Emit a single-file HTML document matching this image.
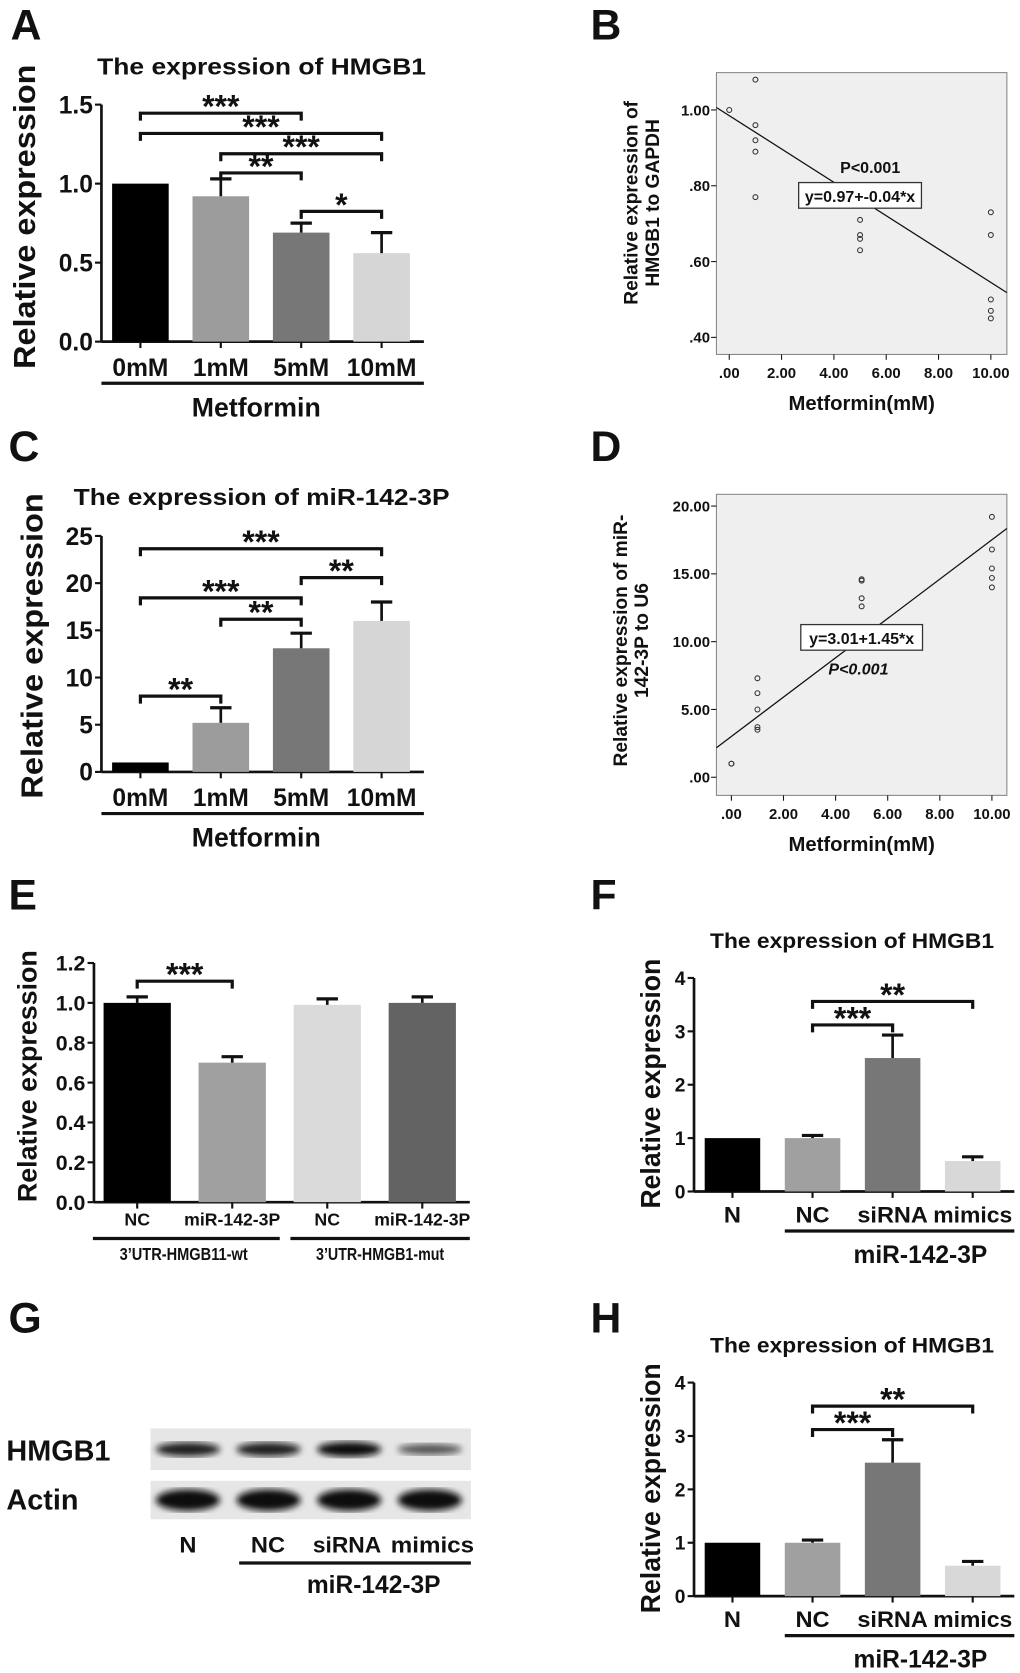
<!DOCTYPE html>
<html><head><meta charset="utf-8"><style>
html,body{margin:0;padding:0;background:#fff}
svg{display:block}
text{font-family:"Liberation Sans",Arial,sans-serif;font-weight:bold;fill:#111}
</style></head><body>
<svg id="fig" width="1020" height="1673" viewBox="0 0 955.3 1567" preserveAspectRatio="none" xmlns="http://www.w3.org/2000/svg"></svg>
<script>
// ---- Panel A data ----
const aCats = ["0mM","1mM","5mM","10mM"];
const aVals = [1.0, 0.92, 0.69, 0.56];
const aErr = [1.0, 1.03, 0.75, 0.69];
const aTicks = [0.0, 0.5, 1.0, 1.5];
const aSig = [[0,2,"***"],[0,3,"***"],[1,3,"***"],[1,2,"**"],[2,3,"*"]];
// ---- Panel C data ----
const cVals = [1.0, 5.2, 13.1, 16.0];
const cErr = [1.0, 6.8, 14.7, 18.0];
const cTicks = [0,5,10,15,20,25];
const cSig = [[0,3,"***"],[2,3,"**"],[0,2,"***"],[1,2,"**"],[0,1,"**"]];
// ---- Panel B data ----
const bX = [0,1,1,1,1,1,5,5,5,5,10,10,10,10,10];
const bY = [1.00,1.08,0.96,0.92,0.89,0.77,0.71,0.67,0.66,0.63,0.73,0.67,0.50,0.47,0.45];
const bYTicks = [0.40,0.60,0.80,1.00];
const bYLabels = [".40",".60",".80","1.00"];
const bFit = [0.985,-0.044];
// ---- Panel D data ----
const dX = [0,0,1,1,1,1,1,5,5,5,5,10,10,10,10,10];
const dY = [1.0,1.0,7.3,6.2,5.0,3.7,3.5,14.6,14.5,13.2,12.6,19.2,16.8,15.4,14.7,14.0];
const dYTicks = [0,5,10,15,20];
const dYLabels = [".00","5.00","10.00","15.00","20.00"];
const dFit = [3.01,1.45];
const xTicks = [0,2,4,6,8,10];
const xTickLabels = [".00","2.00","4.00","6.00","8.00","10.00"];
// ---- Panel E data ----
const eCats = ["NC","miR-142-3P","NC","miR-142-3P"];
const eVals = [1.0, 0.70, 0.99, 1.0];
const eErr = [1.03, 0.73, 1.02, 1.03];
const eTicks = [0.0,0.2,0.4,0.6,0.8,1.0,1.2];
// ---- Panel F/H data ----
const fCats = ["N","NC","siRNA","mimics"];
const fVals = [1.0, 1.0, 2.5, 0.57];
const fErr = [1.0, 1.05, 2.93, 0.65];
const hVals = [1.0, 1.0, 2.5, 0.57];
const hErr = [1.0, 1.05, 2.93, 0.65];
const fTicks = [0,1,2,3,4];
const fSig = [[1,2,"***"],[1,3,"**"]];
// ---- Panel G data (band intensity 0..1) ----
const gLanes = ["N","NC","siRNA","mimics"];
const gHmgb1 = [0.85, 0.85, 1.0, 0.45];
const gActin = [1.0, 1.0, 1.0, 1.0];

const NS="http://www.w3.org/2000/svg";
const svg=document.getElementById('fig');
function el(tag,attrs,parent){const e=document.createElementNS(NS,tag);for(const k in attrs)e.setAttribute(k,attrs[k]);(parent||svg).appendChild(e);return e;}
function txt(s,x,y,size,anchor,parent,extra){const t=el('text',Object.assign({x:x,y:y,'font-size':size,'text-anchor':anchor||'middle'},extra||{}),parent);t.textContent=s;return t;}
function line(x1,y1,x2,y2,w,parent){return el('line',{x1:x1,y1:y1,x2:x2,y2:y2,stroke:'#111','stroke-width':w||2},parent);}

function barChart(o){
  const g=el('g',{});
  
  
  const ys=v=>o.y0-(v-o.vmin)/(o.vmax-o.vmin)*(o.y0-o.y1);
  const xc=i=>o.bx0+o.bw/2+i*o.step;
  const ax=line(o.ax,o.y1,o.ax,o.y0,2.5,g);
  
  
  const xa=line(o.ax,o.y0,o.axEnd,o.y0,2.5,g);
  
  
  o.ticks.forEach((t,i)=>{
    line(o.ax-6,ys(t),o.ax,ys(t),2,g);
    const l=txt(o.tickFmt(t),o.ax-8,ys(t)+o.tfs*0.36,o.tfs,'end',g);
    
    
  });
  o.vals.forEach((v,i)=>{
    const x=o.bx0+i*o.step;
    const r=el('rect',{x:x,y:ys(v),width:o.bw,height:o.y0-ys(v),fill:o.colors[i]},g);
    
    
    if(o.err[i]>v+0.001){
      line(xc(i),ys(v),xc(i),ys(o.err[i]),2.5,g);
      line(xc(i)-10,ys(o.err[i]),xc(i)+10,ys(o.err[i]),3,g);
    }
    line(xc(i),o.y0,xc(i),o.y0+6,2,g);
    const l=txt(o.cats[i],xc(i),o.labY,o.lfs,'middle',g,o.lcond?{textLength:o.lcond[i],lengthAdjust:'spacingAndGlyphs'}:{});
    
    
  });
  (o.sig||[]).forEach((s,k)=>{
    const y=o.sigY[k];const xa=xc(s[0]),xb=xc(s[1]);
    const p=el('path',{d:`M${xa},${y+7}V${y}H${xb}V${y+7}`,fill:'none',stroke:'#111','stroke-width':3},g);
    
    
    const t=txt(s[2],(xa+xb)/2,y+o.sfs*0.14,o.sfs,'middle',g);
    
    
  });
  const yt=txt(o.ytitle,0,0,o.ytfs,'middle',g,{transform:`translate(${o.ytx},${o.yty}) rotate(-90)`,textLength:o.ytw,lengthAdjust:'spacingAndGlyphs'});
  
  
  if(o.title){const t=txt(o.title,o.titleX,o.titleY,o.titleFs,'middle',g,{textLength:o.titleW,lengthAdjust:'spacingAndGlyphs'});
    
    }
  return g;
}

function scatter(o){
  const g=el('g',{});
  
  
  const bg=el('rect',{x:o.bx0,y:o.by0,width:o.bx1-o.bx0,height:o.by1-o.by0,fill:'#efefef',stroke:'#888','stroke-width':1},g);
  
  
  const xs=v=>o.px0+(v-0)/10*(o.px1-o.px0);
  const ys=v=>o.py0-(v-o.ymin)/(o.ymax-o.ymin)*(o.py0-o.py1);
  o.yt.forEach((t,i)=>{line(o.bx0-5,ys(t),o.bx0,ys(t),1,g);
    const l=txt(o.yl[i],o.bx0-6,ys(t)+5,14,'end',g);
    
    });
  xTicks.forEach((t,i)=>{line(xs(t),o.by1,xs(t),o.by1+5,1,g);
    const l=txt(xTickLabels[i],xs(t),o.by1+22,14,'middle',g);
    
    });
  const xl=(o.bx0-o.px0)/(o.px1-o.px0)*10, xr=(o.bx1-o.px0)/(o.px1-o.px0)*10;
  const fl=line(o.bx0,ys(o.fit[0]+o.fit[1]*xl),o.bx1,ys(o.fit[0]+o.fit[1]*xr),1.2,g);
  
  
  o.x.forEach((x,i)=>{const c=el('circle',{cx:xs(x),cy:ys(o.y[i]),r:2.3,fill:'none',stroke:'#333','stroke-width':1},g);
    
    });
  const eb=el('rect',{x:o.eq[0],y:o.eq[1],width:o.eq[2],height:24,fill:'#fff',stroke:'#333','stroke-width':1.2},g);
  
  
  const et=txt(o.eqText,o.eq[0]+o.eq[2]/2,o.eq[1]+18,15,'middle',g);
  
  
  const pt=txt('P<0.001',o.p[0],o.p[1],15,'middle',g,o.pItal?{'font-style':'italic'}:{});
  
  
  const xt=txt('Metformin(mM)',(o.bx0+o.bx1)/2,o.by1+52,19,'middle',g);
  
  
  o.ytitle.forEach((s,i)=>{const t=txt(s,0,0,18,'middle',g,{transform:`translate(${o.ytx+i*20},${o.yty}) rotate(-90)`});
    
    });
}

function panelLabel(s,x,y){const t=txt(s,x,y,40,'start');
  
  }
['A',10,37,'B',553,37,'C',8,432,'D',553,432,'E',8,852,'F',553,852,'G',8,1248,'H',553,1248].forEach((v,i,a)=>{if(i%3==0)panelLabel(a[i],a[i+1],a[i+2]);});

const grays4=['#000','#9c9c9c','#777','#d6d6d6'];
barChart({name:'chart-a',cats:aCats,vals:aVals,err:aErr,ticks:aTicks,vmin:0,vmax:1.5,y0:320,y1:98,ax:95,axEnd:397,
  bx0:105,bw:53,step:75.3,colors:grays4,labY:352,lfs:23,tfs:23,tickFmt:t=>t.toFixed(1),
  sig:aSig,sigY:[106,125,144,162,198],sfs:30,ytitle:'Relative expression',ytfs:29,ytw:285,ytx:33,yty:203,
  title:'The expression of HMGB1',titleX:245,titleY:70,titleFs:22,titleW:308});
barChart({name:'chart-c',cats:aCats,vals:cVals,err:cErr,ticks:cTicks,vmin:0,vmax:25,y0:723,y1:502,ax:95,axEnd:397,
  bx0:105,bw:53,step:75.3,colors:grays4,labY:755,lfs:23,tfs:23,tickFmt:t=>String(t),
  sig:cSig,sigY:[514,541,560,580,652],sfs:30,ytitle:'Relative expression',ytfs:29,ytw:286,ytx:40,yty:605,
  title:'The expression of miR-142-3P',titleX:245,titleY:473,titleFs:22,titleW:352});
[359,762].forEach((y,i)=>{const l=line(95,y,397,y,3);
  const t=txt('Metformin',240,y+31,25,'middle');});

scatter({name:'chart-b',bx0:671,bx1:943,by0:68,by1:332,px0:683,px1:928,py0:316,py1:103,ymin:0.4,ymax:1.0,
  yt:bYTicks,yl:bYLabels,x:bX,y:bY,fit:bFit,eq:[748,171,115],eqText:'y=0.97+-0.04*x',p:[815,162],pItal:false,
  ytitle:['Relative expression of','HMGB1 to GAPDH'],ytx:597,yty:190});
scatter({name:'chart-d',bx0:671,bx1:943,by0:463,by1:745,px0:685,px1:929,py0:728,py1:474,ymin:0,ymax:20,
  yt:dYTicks,yl:dYLabels,x:dX,y:dY,fit:dFit,eq:[750,585,114],eqText:'y=3.01+1.45*x',p:[804,632],pItal:true,
  ytitle:['Relative expression of miR-','142-3P to U6'],ytx:587,yty:600});

barChart({name:'chart-e',cats:eCats,vals:eVals,err:eErr,ticks:eTicks,vmin:0,vmax:1.2,y0:1126,y1:902,ax:88,axEnd:440,
  bx0:97,bw:63,step:89,colors:['#000','#a0a0a0','#dadada','#636363'],labY:1148,lfs:16,tfs:20,tickFmt:t=>t.toFixed(1),
  lcond:[24,90,24,90],
  sig:[[0,1,'***']],sigY:[919],sfs:30,ytitle:'Relative expression',ytfs:25,ytw:236,ytx:34,yty:1008,});
[[87,262,'3\u2019UTR-HMGB11-wt',172],[272,440,'3\u2019UTR-HMGB1-mut',356]].forEach(v=>{
  const l=line(v[0],1160,v[1],1160,3);
  const t=txt(v[2],v[3],1180,16,'middle',null,{textLength:v[2].length*8,lengthAdjust:'spacingAndGlyphs'});});

[[fVals,fErr,0,'chart-f'],[hVals,hErr,379,'chart-h']].forEach(p=>{
  const d=p[2];
  barChart({name:p[3],cats:fCats,vals:p[0],err:p[1],ticks:fTicks,vmin:0,vmax:4,y0:1116+d,y1:916+d,ax:650,axEnd:950,
    bx0:660,bw:52,step:75,colors:['#000','#a0a0a0','#777','#d8d8d8'],labY:1145+d,lfs:21,tfs:18,tickFmt:t=>String(t),
    lcond:[16,32,66,74],
    sig:fSig,sigY:[960+d,938+d],sfs:30,ytitle:'Relative expression',ytfs:26,ytw:234,ytx:618,yty:1015+d,
    title:'The expression of HMGB1',titleX:798,titleY:888+d,titleFs:20,titleW:266});
  const l=line(735,1153+d,950,1153+d,3);
  const t=txt('miR-142-3P',862,1183+d,23,'middle');
});

// Panel G western blot
(function(){
  const g=el('g',{});
  
  
  const defs=el('defs',{},g);
  const f=el('filter',{id:'blur'},defs);el('feGaussianBlur',{stdDeviation:3},f);
  const strips=[[1338,39,gHmgb1,'HMGB1',1368,14],[1387,36,gActin,'Actin',1414,20]];
  strips.forEach(s=>{
    const r=el('rect',{x:141,y:s[0],width:300,height:s[1],fill:'#e6e6e6'},g);
    
    
    s[2].forEach((v,i)=>{const cx=176+i*75.5;
      const b=el('ellipse',{cx:cx,cy:s[0]+s[1]/2,rx:30,ry:s[5]/2*(0.5+0.5*v),fill:'#111',opacity:0.4+0.6*v,filter:'url(#blur)'},g);
      
      });
    const t=txt(s[3],6,s[4],27,'start',g,{style:'font-weight:600'});
    
    
  });
  const lx=[176,251,325,405],lw=[16,32,64,78];
  gLanes.forEach((s,i)=>{const t=txt(s,lx[i],1454,21,'middle',g,{textLength:lw[i],lengthAdjust:'spacingAndGlyphs'});
    
    });
  const l=line(224,1464,441,1464,3,g);
  const t=txt('miR-142-3P',350,1492,23,'middle',g);
})();
</script>
</body></html>
